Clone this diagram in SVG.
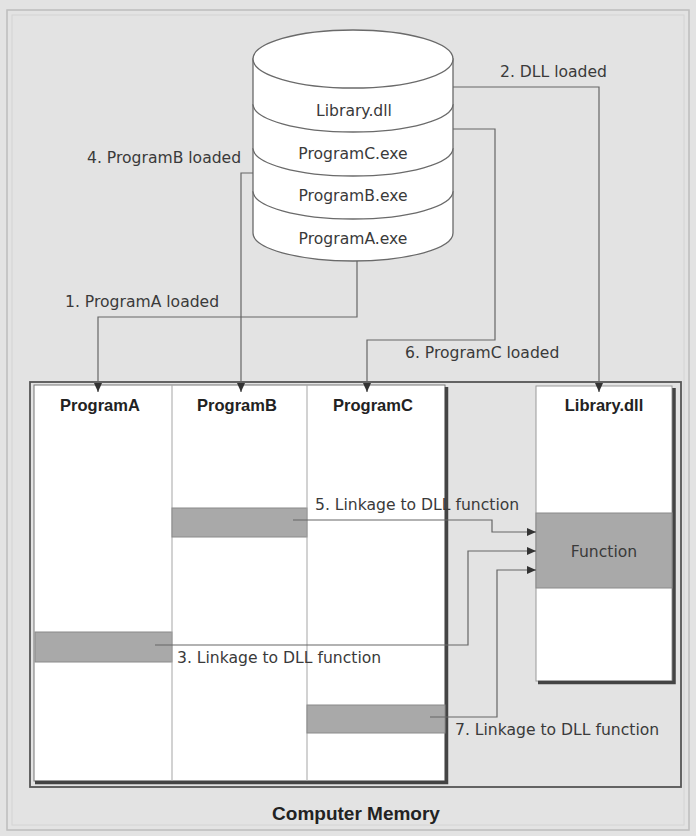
<svg xmlns="http://www.w3.org/2000/svg" width="696" height="836" viewBox="0 0 696 836">
  <style>
    .lbl { font-family: "DejaVu Sans", "Liberation Sans", sans-serif; font-size: 15.6px; fill: #3a3a3a; }
    .hdr { font-family: "Liberation Sans", Arial, sans-serif; font-size: 16.5px; font-weight: bold; fill: #222; text-anchor: middle; }
    .mid { text-anchor: middle; }
    .conn { fill: none; stroke: #666; stroke-width: 1.2; }
    .disk { fill: #fff; stroke: #6a6a6a; stroke-width: 1.3; }
    .col { fill: #fff; stroke: #9a9a9a; stroke-width: 1; }
    .block { fill: #a9a9a9; stroke: #8a8a8a; stroke-width: 1; }
    .shadow { stroke: #444; stroke-width: 3.5; fill: none; }
  </style>
  <defs>
    <marker id="ah" markerWidth="9" markerHeight="8" refX="9" refY="4" orient="auto" markerUnits="userSpaceOnUse">
      <path d="M0,0 L9,4 L0,8 Z" fill="#333"/>
    </marker>
  </defs>

  <!-- page background and border -->
  <rect x="0" y="0" width="696" height="836" fill="#e3e3e3"/>
  <rect x="7" y="10" width="682" height="820" fill="none" stroke="#bdbdbd" stroke-width="1.5"/>
  <rect x="12" y="15" width="672" height="810" fill="none" stroke="#d4d4d4" stroke-width="1"/>

  <!-- disk holding the files -->
  <g id="disk">
    <path class="disk" d="M253,59 L253,233 A100,28 0 0 0 453,233 L453,59 Z"/>
    <ellipse class="disk" cx="353" cy="59" rx="100" ry="29"/>
    <path class="disk" fill="none" d="M253,104 A100,28 0 0 0 453,104"/>
    <path class="disk" fill="none" d="M253,148 A100,28 0 0 0 453,148"/>
    <path class="disk" fill="none" d="M253,191 A100,28 0 0 0 453,191"/>
    <text class="lbl mid" x="354" y="116">Library.dll</text>
    <text class="lbl mid" x="353" y="159">ProgramC.exe</text>
    <text class="lbl mid" x="353" y="201">ProgramB.exe</text>
    <text class="lbl mid" x="353" y="244">ProgramA.exe</text>
  </g>

  <!-- memory frame -->
  <g id="memory">
    <rect x="30" y="382" width="651" height="405" fill="none" stroke="#555" stroke-width="1.8"/>
    <text class="hdr" x="356" y="820" style="font-size:19px">Computer Memory</text>
  </g>

  <!-- program area -->
  <g id="programs">
    <rect x="34" y="385" width="411" height="396" fill="#fff" stroke="#777" stroke-width="1"/>
    <path class="shadow" d="M446.5,387 V782.5 H35"/>
  </g>

  <g id="programA">
    <rect class="block" x="35" y="632" width="137" height="30"/>
    <text class="hdr" x="100" y="411">ProgramA</text>
  </g>

  <g id="programB">
    <line x1="172" y1="385" x2="172" y2="781" stroke="#a5a5a5" stroke-width="1"/>
    <rect class="block" x="172" y="508" width="135" height="29"/>
    <text class="hdr" x="237" y="411">ProgramB</text>
  </g>

  <g id="programC">
    <line x1="307" y1="385" x2="307" y2="781" stroke="#a5a5a5" stroke-width="1"/>
    <rect class="block" x="307" y="705" width="138" height="28"/>
    <text class="hdr" x="373" y="411">ProgramC</text>
  </g>

  <g id="library">
    <rect class="col" x="536" y="386" width="136" height="295"/>
    <path class="shadow" d="M674,388 V682.5 H538"/>
    <rect class="block" x="536" y="513" width="136" height="75"/>
    <text class="hdr" x="604" y="411">Library.dll</text>
    <text class="lbl mid" x="604" y="557">Function</text>
  </g>

  <!-- connectors -->
  <g id="connectors">
    <path class="conn" d="M357,261 V317 H98 V392" marker-end="url(#ah)"/>
    <path class="conn" d="M453,87 H599 V392" marker-end="url(#ah)"/>
    <path class="conn" d="M253,173 H241 V392" marker-end="url(#ah)"/>
    <path class="conn" d="M453,129 H495 V340 H367 V392" marker-end="url(#ah)"/>
    <path class="conn" d="M155,645 H468 V551 H536" marker-end="url(#ah)"/>
    <path class="conn" d="M293,520 H492 V532 H536" marker-end="url(#ah)"/>
    <path class="conn" d="M430,717 H497 V570 H536" marker-end="url(#ah)"/>
  </g>

  <!-- connector labels -->
  <g id="labels">
    <text class="lbl" x="65" y="307">1. ProgramA loaded</text>
    <text class="lbl" x="500" y="77">2. DLL loaded</text>
    <text class="lbl" x="87" y="163">4. ProgramB loaded</text>
    <text class="lbl" x="405" y="358">6. ProgramC loaded</text>
    <text class="lbl" x="315" y="510">5. Linkage to DLL function</text>
    <text class="lbl" x="177" y="663">3. Linkage to DLL function</text>
    <text class="lbl" x="455" y="735">7. Linkage to DLL function</text>
  </g>
</svg>
